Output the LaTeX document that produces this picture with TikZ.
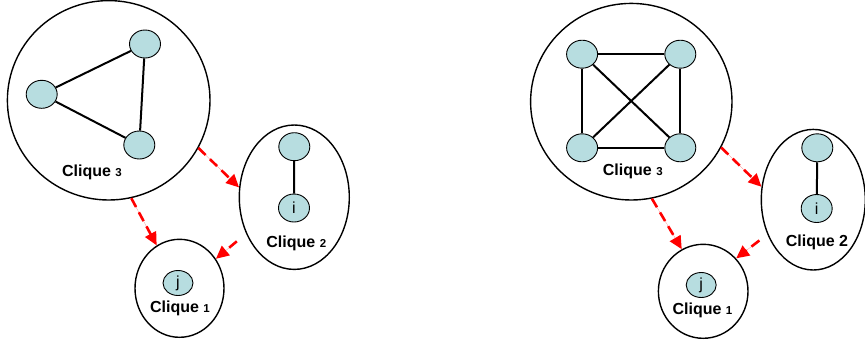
\documentclass[tikz,border=0pt]{standalone}
\usepackage{fontspec}
\setmainfont{Liberation Sans}
\usetikzlibrary{shapes.geometric,arrows.meta}
\definecolor{vfill}{RGB}{183,221,224}
\definecolor{ared}{RGB}{255,0,0}
\tikzset{
  vert/.style={ellipse,draw=black,line width=0.9pt,fill=vfill,minimum width=31pt,minimum height=28pt,inner sep=0pt,font=\fontsize{16}{18}\selectfont},
  smallvert/.style={vert,minimum width=30pt,minimum height=25pt},
  clique/.style={ellipse,draw=black,line width=1.4pt,inner sep=0pt},
  gedge/.style={line width=2pt,draw=black},
  dep/.style={draw=ared,line width=2.6pt,dash pattern=on 10pt off 6pt,-{Triangle[length=13pt,width=12pt]},fill=ared},
  lab/.style={inner sep=0pt,font=\bfseries\fontsize{16}{18}\selectfont},
}
\newcommand{\sm}[1]{{\fontsize{11.5}{12}\selectfont #1}}
\begin{document}
\begin{tikzpicture}[x=1pt,y=-1pt]
\useasboundingbox (0,0) rectangle (865,341);
% ---------- left panel ----------
\node[clique,minimum width=202.6pt,minimum height=199.4pt] (Lc3) at (108.7,100.3) {};
\node[clique,minimum width=110pt,minimum height=144.4pt] (Lc2) at (294.3,197.2) {};
\node[clique,minimum width=89pt,minimum height=98pt] (Lc1) at (179.5,288.3) {};
\node[vert] (La) at (145,44) {};
\node[vert] (Lb) at (41.7,94.3) {};
\node[vert] (Lc) at (139.3,145) {};
\draw[gedge] (Lb) -- (La);
\draw[gedge] (Lb) -- (Lc);
\draw[gedge] (La) -- (Lc);
\node[vert] (Ld) at (294.3,146.7) {};
\node[vert] (Li) at (294,208) {i};
\draw[gedge] (Ld) -- (Li);
\node[smallvert] (Lj) at (178,283) {j};
\node[lab] (Ll3) at (92,172) {Clique \sm{3}};
\node[lab] (Ll2) at (296.3,243.3) {Clique \sm{2}};
\node[lab] (Ll1) at (180,308.3) {Clique \sm{1}};
\draw[dep] (Lc3.-77.6) -- (Lc1.118.8);
\draw[dep] (Lc3.-28.7) -- (Lc2.170.2);
\draw[dep,shorten <=12pt] (Lc2.-143) -- (Lc1.39.9);
% ---------- right panel ----------
\node[clique,minimum width=201.4pt,minimum height=196.6pt] (Rc3) at (631.3,101.7) {};
\node[clique,minimum width=104pt,minimum height=140.6pt] (Rc2) at (813.3,199.7) {};
\node[clique,minimum width=89.6pt,minimum height=94pt] (Rc1) at (703.2,291.3) {};
\node[vert] (Ra) at (582.1,54.2) {};
\node[vert] (Rb) at (680.3,54.2) {};
\node[vert] (Rc) at (582.1,147.8) {};
\node[vert] (Rd) at (680.3,147.8) {};
\draw[gedge] (Ra) -- (Rb);
\draw[gedge] (Ra) -- (Rc);
\draw[gedge] (Ra) -- (Rd);
\draw[gedge] (Rb) -- (Rc);
\draw[gedge] (Rb) -- (Rd);
\draw[gedge] (Rc) -- (Rd);
\node[vert] (Re) at (817.3,147.8) {};
\node[vert] (Ri) at (816.7,208.5) {i};
\draw[gedge] (Re) -- (Ri);
\node[smallvert] (Rj) at (701.2,285) {j};
\node[lab] (Rl3) at (632.8,171.7) {Clique \sm{3}};
\node[lab] (Rl2) at (817,242.7) {Clique 2};
\node[lab] (Rl1) at (702.5,310) {Clique \sm{1}};
\draw[dep] (Rc3.-78) -- (Rc1.117.9);
\draw[dep] (Rc3.-27.7) -- (Rc2.166.8);
\draw[dep,shorten <=10pt] (Rc2.-143.4) -- (Rc1.45.2);
\end{tikzpicture}
\end{document}
